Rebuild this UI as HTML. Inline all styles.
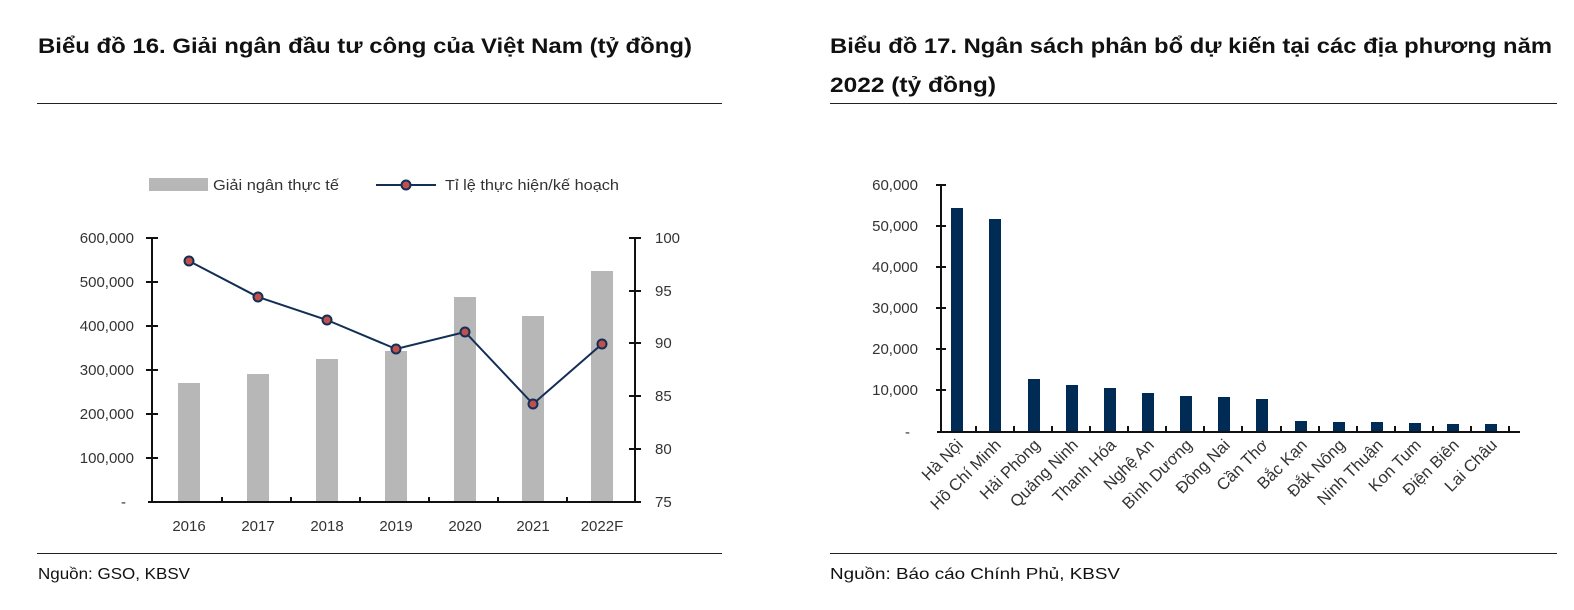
<!DOCTYPE html>
<html><head><meta charset="utf-8"><style>
html,body{margin:0;padding:0;background:#fff;}
svg{display:block;font-family:"Liberation Sans",sans-serif;}
</style></head><body>
<svg width="1574" height="610" viewBox="0 0 1574 610" xmlns="http://www.w3.org/2000/svg">
<g font-weight="bold" font-size="21" fill="#111">
<text x="38" y="53" textLength="654" lengthAdjust="spacingAndGlyphs">Biểu đồ 16. Giải ngân đầu tư công của Việt Nam (tỷ đồng)</text>
<text x="830" y="53" textLength="722" lengthAdjust="spacingAndGlyphs">Biểu đồ 17. Ngân sách phân bổ dự kiến tại các địa phương năm</text>
<text x="830" y="92" textLength="166" lengthAdjust="spacingAndGlyphs">2022 (tỷ đồng)</text>
</g>
<line x1="37" y1="103.5" x2="722" y2="103.5" stroke="#222" stroke-width="1"/>
<line x1="830" y1="103.5" x2="1557" y2="103.5" stroke="#222" stroke-width="1"/>
<line x1="37" y1="553.5" x2="722" y2="553.5" stroke="#222" stroke-width="1"/>
<line x1="830" y1="553.5" x2="1557" y2="553.5" stroke="#222" stroke-width="1"/>
<text x="38" y="579" font-size="16" fill="#111" textLength="152" lengthAdjust="spacingAndGlyphs">Nguồn:  GSO, KBSV</text>
<text x="830" y="579" font-size="16" fill="#111" textLength="290" lengthAdjust="spacingAndGlyphs">Nguồn: Báo cáo Chính Phủ, KBSV</text>

<g font-size="15" fill="#333">
<rect x="149" y="178" width="59" height="13" fill="#b7b7b7"/>
<text x="213" y="190" textLength="126" lengthAdjust="spacingAndGlyphs">Giải ngân thực tế</text>
<line x1="376" y1="185" x2="436" y2="185" stroke="#132f55" stroke-width="2"/>
<circle cx="406" cy="185" r="4.5" fill="#c0504d" stroke="#132f55" stroke-width="2"/>
<text x="445" y="190" textLength="174" lengthAdjust="spacingAndGlyphs">Tỉ lệ thực hiện/kế hoạch</text>
</g>
<g fill="#b7b7b7">
<rect x="178" y="383" width="22" height="119"/>
<rect x="247" y="374" width="22" height="128"/>
<rect x="316" y="359" width="22" height="143"/>
<rect x="385" y="351" width="22" height="151"/>
<rect x="454" y="297" width="22" height="205"/>
<rect x="522" y="316" width="22" height="186"/>
<rect x="591" y="271" width="22" height="231"/>
</g>
<g stroke="#111" stroke-width="2">
<line x1="152" y1="238" x2="152" y2="502"/>
<line x1="635" y1="238" x2="635" y2="502"/>
<line x1="148" y1="502" x2="641" y2="502"/>
<line x1="146" y1="238" x2="158" y2="238"/><line x1="146" y1="282" x2="158" y2="282"/><line x1="146" y1="326" x2="158" y2="326"/><line x1="146" y1="370" x2="158" y2="370"/><line x1="146" y1="414" x2="158" y2="414"/><line x1="146" y1="458" x2="158" y2="458"/>
<line x1="629" y1="238" x2="641" y2="238"/><line x1="629" y1="291" x2="641" y2="291"/><line x1="629" y1="343" x2="641" y2="343"/><line x1="629" y1="396" x2="641" y2="396"/><line x1="629" y1="449" x2="641" y2="449"/>
<line x1="222" y1="497" x2="222" y2="502"/><line x1="291" y1="497" x2="291" y2="502"/><line x1="360" y1="497" x2="360" y2="502"/><line x1="429" y1="497" x2="429" y2="502"/><line x1="498" y1="497" x2="498" y2="502"/><line x1="567" y1="497" x2="567" y2="502"/>
</g>
<g font-size="15" fill="#333" text-anchor="end">
<text x="134" y="243">600,000</text><text x="134" y="287">500,000</text><text x="134" y="331">400,000</text><text x="134" y="375">300,000</text><text x="134" y="419">200,000</text><text x="134" y="463">100,000</text><text x="126" y="507">-</text>
</g>
<g font-size="15" fill="#333">
<text x="655" y="243">100</text><text x="655" y="296">95</text><text x="655" y="348">90</text><text x="655" y="401">85</text><text x="655" y="454">80</text><text x="655" y="507">75</text>
</g>
<g font-size="15" fill="#333" text-anchor="middle">
<text x="189" y="531">2016</text><text x="258" y="531">2017</text><text x="327" y="531">2018</text><text x="396" y="531">2019</text><text x="465" y="531">2020</text><text x="533" y="531">2021</text><text x="602" y="531">2022F</text>
</g>
<polyline points="189,261 258,297 327,320 396,349 465,332 533,404 602,344" fill="none" stroke="#132f55" stroke-width="2"/>
<g fill="#c0504d" stroke="#132f55" stroke-width="2">
<circle cx="189" cy="261" r="4.5"/><circle cx="258" cy="297" r="4.5"/><circle cx="327" cy="320" r="4.5"/><circle cx="396" cy="349" r="4.5"/><circle cx="465" cy="332" r="4.5"/><circle cx="533" cy="404" r="4.5"/><circle cx="602" cy="344" r="4.5"/>
</g>

<g fill="#002b55">
<rect x="951" y="208" width="12" height="224"/>
<rect x="989" y="219" width="12" height="213"/>
<rect x="1028" y="379" width="12" height="53"/>
<rect x="1066" y="385" width="12" height="47"/>
<rect x="1104" y="388" width="12" height="44"/>
<rect x="1142" y="393" width="12" height="39"/>
<rect x="1180" y="396" width="12" height="36"/>
<rect x="1218" y="397" width="12" height="35"/>
<rect x="1256" y="399" width="12" height="33"/>
<rect x="1295" y="421" width="12" height="11"/>
<rect x="1333" y="422" width="12" height="10"/>
<rect x="1371" y="422" width="12" height="10"/>
<rect x="1409" y="423" width="12" height="9"/>
<rect x="1447" y="424" width="12" height="8"/>
<rect x="1485" y="424" width="12" height="8"/>
</g>
<g stroke="#111" stroke-width="2">
<line x1="941" y1="185" x2="941" y2="432"/>
<line x1="937" y1="432" x2="1520" y2="432"/>
<line x1="936" y1="185" x2="946" y2="185"/><line x1="936" y1="226" x2="946" y2="226"/><line x1="936" y1="267" x2="946" y2="267"/><line x1="936" y1="308" x2="946" y2="308"/><line x1="936" y1="349" x2="946" y2="349"/><line x1="936" y1="390" x2="946" y2="390"/>
<line x1="976" y1="426" x2="976" y2="432"/><line x1="1014" y1="426" x2="1014" y2="432"/><line x1="1052" y1="426" x2="1052" y2="432"/><line x1="1090" y1="426" x2="1090" y2="432"/><line x1="1128" y1="426" x2="1128" y2="432"/><line x1="1166" y1="426" x2="1166" y2="432"/><line x1="1204" y1="426" x2="1204" y2="432"/><line x1="1242" y1="426" x2="1242" y2="432"/><line x1="1281" y1="426" x2="1281" y2="432"/><line x1="1319" y1="426" x2="1319" y2="432"/><line x1="1357" y1="426" x2="1357" y2="432"/><line x1="1395" y1="426" x2="1395" y2="432"/><line x1="1433" y1="426" x2="1433" y2="432"/><line x1="1471" y1="426" x2="1471" y2="432"/><line x1="1509" y1="426" x2="1509" y2="432"/>
</g>
<g font-size="15" fill="#333" text-anchor="end">
<text x="918" y="190">60,000</text><text x="918" y="231">50,000</text><text x="918" y="272">40,000</text><text x="918" y="313">30,000</text><text x="918" y="354">20,000</text><text x="918" y="395">10,000</text><text x="910" y="437">-</text>
</g>
<g font-size="16.5" fill="#333" text-anchor="end">
<text transform="translate(964,446) rotate(-45)">Hà Nội</text>
<text transform="translate(1002,446) rotate(-45)">Hồ Chí Minh</text>
<text transform="translate(1041,446) rotate(-45)">Hải Phòng</text>
<text transform="translate(1079,446) rotate(-45)">Quảng Ninh</text>
<text transform="translate(1117,446) rotate(-45)">Thanh Hóa</text>
<text transform="translate(1155,446) rotate(-45)">Nghệ An</text>
<text transform="translate(1193,446) rotate(-45)">Bình Dương</text>
<text transform="translate(1231,446) rotate(-45)">Đồng Nai</text>
<text transform="translate(1269,446) rotate(-45)">Cần Thơ</text>
<text transform="translate(1308,446) rotate(-45)">Bắc Kạn</text>
<text transform="translate(1346,446) rotate(-45)">Đắk Nông</text>
<text transform="translate(1384,446) rotate(-45)">Ninh Thuận</text>
<text transform="translate(1422,446) rotate(-45)">Kon Tum</text>
<text transform="translate(1460,446) rotate(-45)">Điện Biên</text>
<text transform="translate(1498,446) rotate(-45)">Lai Châu</text>
</g>
</svg>
</body></html>
